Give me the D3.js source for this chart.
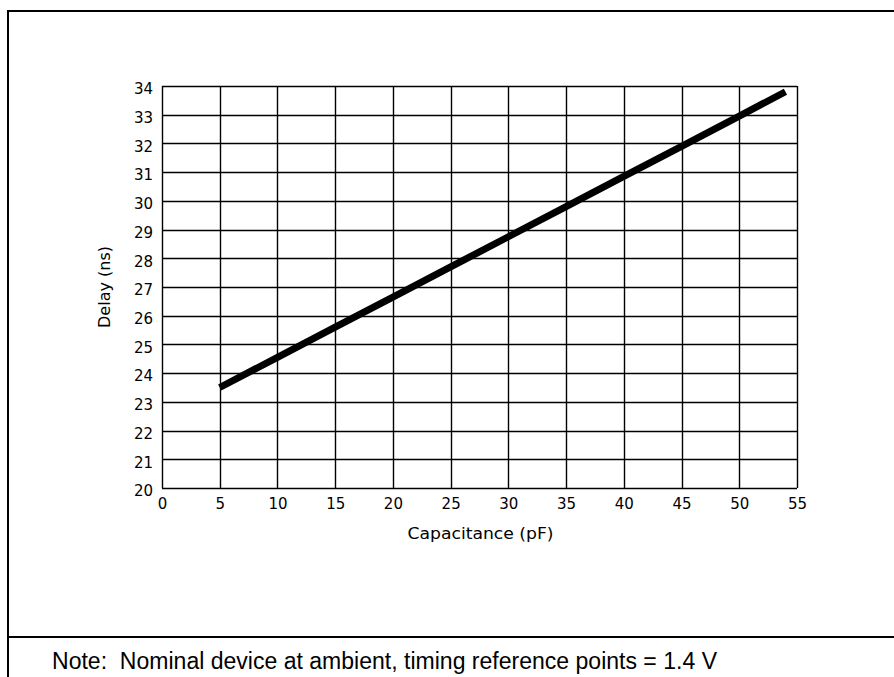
<!DOCTYPE html>
<html>
<head>
<meta charset="utf-8">
<script src="https://cdn.jsdelivr.net/npm/d3@7"></script>
<style>
	body { margin: 0; background: #fff; }
	svg { display: block; }
</style>
</head>
<body>
<div id="mainWrapper"><svg width="894" height="677"></svg></div>
<script>

	// data
	var capacitance = [5, 10, 15, 20, 25, 30, 35, 40, 45, 50, 54];
	var delay = [23.5, 24.55, 25.6, 26.65, 27.7, 28.75, 29.8, 30.85, 31.9, 32.95, 33.8];

	var xTicks = [0, 5, 10, 15, 20, 25, 30, 35, 40, 45, 50, 55];
	var yTicks = [20, 21, 22, 23, 24, 25, 26, 27, 28, 29, 30, 31, 32, 33, 34];

	var xLabel = "Capacitance (pF)";
	var yLabel = "Delay (ns)";
	var note = "Note:  Nominal device at ambient, timing reference points = 1.4 V";

	function ChartDraw(){

		var svg = d3.select("#mainWrapper>svg");

		//外枠
		svg.append("rect")
			.attr("x", 8)
			.attr("y", 11)
			.attr("width", 1000)
			.attr("height", 800)
			.attr("fill", "none")
			.attr("stroke", "black")
			.attr("stroke-width", 2);

		//区切り線
		svg.append("line")
			.attr("x1", 8)
			.attr("x2", 894)
			.attr("y1", 637)
			.attr("y2", 637)
			.attr("stroke", "black")
			.attr("stroke-width", 2);

		//スケール
		var x = d3.scaleLinear()
			.domain([0, 55])
			.range([162, 797]);

		var y = d3.scaleLinear()
			.domain([20, 34])
			.range([488, 86]);

		var plot = svg.append("g");

		//縦グリッド
		plot.append("g")
			.selectAll("line")
			.data(xTicks)
			.enter()
			.append("line")
			.attr("x1", function(d){ return Math.round(x(d)) + 0.5; })
			.attr("x2", function(d){ return Math.round(x(d)) + 0.5; })
			.attr("y1", y(20))
			.attr("y2", y(34))
			.attr("stroke", "black")
			.attr("stroke-width", 1.4);

		//横グリッド
		plot.append("g")
			.selectAll("line")
			.data(yTicks)
			.enter()
			.append("line")
			.attr("x1", x(0))
			.attr("x2", x(55))
			.attr("y1", function(d){ return Math.round(y(d)) + 0.5; })
			.attr("y2", function(d){ return Math.round(y(d)) + 0.5; })
			.attr("stroke", "black")
			.attr("stroke-width", 1.4);

		//x軸ラベル
		var xAxis = d3.axisBottom(x)
			.tickValues(xTicks)
			.tickSize(0)
			.tickPadding(10);

		var gx = plot.append("g")
			.attr("transform", "translate(0," + y(20) + ")")
			.call(xAxis);
		gx.select(".domain").remove();
		gx.selectAll("text")
			.attr("font-family", "DejaVu Sans")
			.attr("font-size", "15px")
			.attr("fill", "black");

		//y軸ラベル
		var yAxis = d3.axisLeft(y)
			.tickValues(yTicks)
			.tickSize(0)
			.tickPadding(9);

		var gy = plot.append("g")
			.attr("transform", "translate(" + x(0) + ",0)")
			.call(yAxis);
		gy.select(".domain").remove();
		gy.selectAll("text")
			.attr("font-family", "DejaVu Sans")
			.attr("font-size", "15px")
			.attr("dy", "0.52em")
			.attr("fill", "black");

		//データ線
		var line = d3.line()
			.x(function(d){ return x(d[0]); })
			.y(function(d){ return y(d[1]); });

		plot.append("path")
			.datum(d3.zip(capacitance, delay))
			.attr("d", line)
			.attr("fill", "none")
			.attr("stroke", "black")
			.attr("stroke-width", 7)
			.attr("stroke-linecap", "butt");

		//軸タイトル
		svg.append("text")
			.attr("x", (x(0) + x(55)) / 2 + 1)
			.attr("y", 539)
			.attr("text-anchor", "middle")
			.attr("font-family", "DejaVu Sans")
			.attr("font-size", "16px")
			.attr("textLength", 146)
			.attr("lengthAdjust", "spacingAndGlyphs")
			.text(xLabel);

		svg.append("text")
			.attr("transform", "translate(110," + (y(20) + y(34)) / 2 + ") rotate(-90)")
			.attr("text-anchor", "middle")
			.attr("font-family", "DejaVu Sans")
			.attr("font-size", "16px")
			.text(yLabel);

		//注記
		svg.append("text")
			.attr("x", 52)
			.attr("y", 669)
			.attr("font-family", "Liberation Sans")
			.attr("font-size", "23px")
			.attr("textLength", 665)
			.attr("lengthAdjust", "spacingAndGlyphs")
			.style("white-space", "pre")
			.text(note);
	}

	ChartDraw();
</script>
</body>
</html>
